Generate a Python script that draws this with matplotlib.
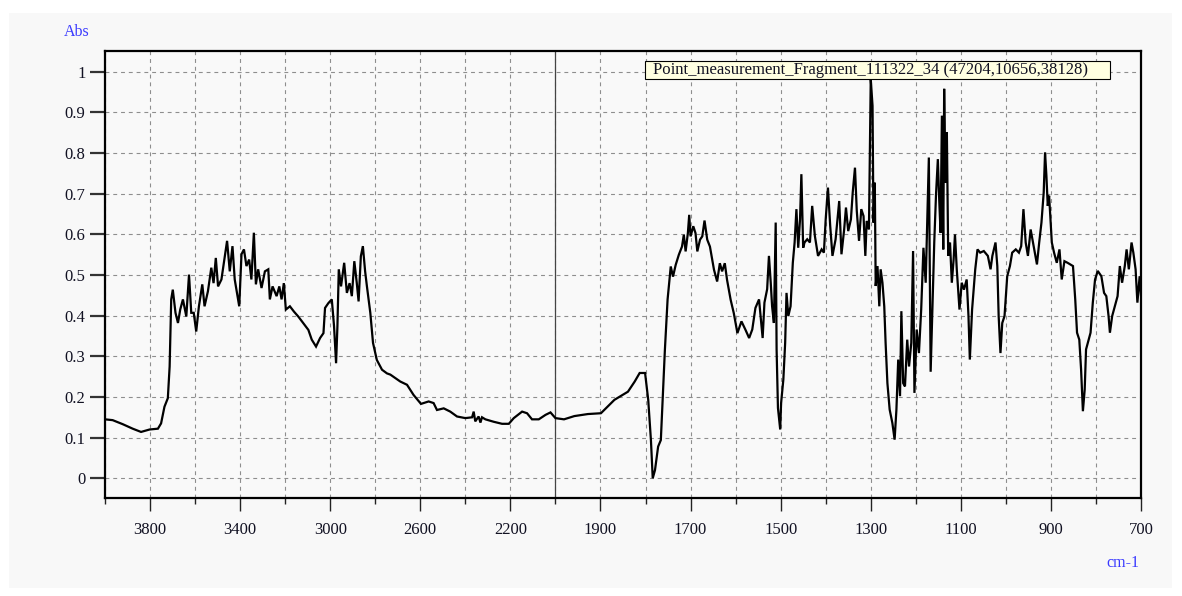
import numpy as np
import matplotlib
matplotlib.use("Agg")
import matplotlib.pyplot as plt
from matplotlib.patches import Rectangle

# ---------------- data ----------------
wavenumber = [
    4000, 3966, 3921, 3877, 3840, 3802, 3765, 3751, 3736, 3721, 3713, 3706, 3699, 3687,
    3676, 3666, 3654, 3639, 3627, 3617, 3606, 3595, 3583, 3568, 3558, 3543, 3528, 3518,
    3508, 3498, 3483, 3468, 3458, 3446, 3434, 3424, 3404, 3394, 3383, 3372, 3360, 3350,
    3339, 3330, 3320, 3305, 3290, 3275, 3268, 3256, 3238, 3226, 3216, 3206, 3197, 3179,
    3161, 3142, 3120, 3097, 3082, 3063, 3045, 3030, 3023, 3008, 2993, 2983, 2974, 2968,
    2962, 2952, 2938, 2926, 2914, 2904, 2893, 2882, 2874, 2864, 2855, 2845, 2837, 2822,
    2810, 2793, 2770, 2748, 2733, 2689, 2659, 2630, 2597, 2563, 2541, 2526, 2496, 2467,
    2437, 2400, 2370, 2363, 2356, 2341, 2333, 2326, 2311, 2274, 2237, 2207, 2185, 2148,
    2126, 2104, 2074, 2044, 2022, 2000, 1981, 1958, 1928, 1899, 1869, 1839, 1824, 1813,
    1801, 1794, 1788, 1784, 1779, 1772, 1766, 1762, 1757, 1751, 1744, 1739, 1733, 1726,
    1719, 1715, 1711, 1706, 1703, 1700, 1694, 1689, 1685, 1679, 1674, 1669, 1663, 1657,
    1648, 1641, 1635, 1630, 1624, 1619, 1611, 1604, 1596, 1587, 1578, 1570, 1563, 1556,
    1548, 1543, 1540, 1536, 1530, 1526, 1522, 1519, 1515, 1511, 1509, 1506, 1501, 1499,
    1494, 1490, 1487, 1483, 1478, 1473, 1469, 1465, 1461, 1457, 1454, 1450, 1447, 1441,
    1435, 1430, 1424, 1417, 1409, 1404, 1400, 1395, 1390, 1385, 1378, 1370, 1365, 1359,
    1355, 1350, 1344, 1340, 1335, 1331, 1326, 1321, 1316, 1312, 1309, 1304, 1300, 1296,
    1294, 1291, 1289, 1285, 1281, 1278, 1274, 1270, 1267, 1263, 1258, 1252, 1247, 1243,
    1239, 1235, 1232, 1228, 1224, 1219, 1215, 1210, 1206, 1203, 1198, 1193, 1188, 1183,
    1178, 1171, 1167, 1163, 1159, 1155, 1151, 1148, 1145, 1142, 1139, 1137, 1134, 1131,
    1128, 1124, 1120, 1116, 1113, 1109, 1103, 1098, 1093, 1087, 1083, 1080, 1075, 1068,
    1063, 1057, 1049, 1040, 1034, 1030, 1023, 1019, 1016, 1012, 1008, 1003, 997, 991,
    986, 978, 971, 966, 961, 956, 951, 945, 937, 931, 926, 921, 916, 913, 910, 907, 904,
    898, 893, 887, 881, 876, 870, 863, 851, 846, 842, 837, 833, 829, 825, 822, 818, 812,
    807, 802, 796, 788, 782, 777, 772, 769, 764, 758, 752, 747, 742, 736, 732, 727, 721,
    717, 712, 708, 703, 700,
]
absorbance = [
    0.145, 0.143, 0.133, 0.122, 0.114, 0.120, 0.122, 0.135, 0.176, 0.197, 0.275, 0.440, 0.464, 0.407,
    0.382, 0.415, 0.440, 0.398, 0.501, 0.407, 0.407, 0.361, 0.423, 0.477, 0.423, 0.460, 0.518, 0.480,
    0.542, 0.472, 0.489, 0.546, 0.584, 0.509, 0.571, 0.489, 0.423, 0.551, 0.563, 0.522, 0.538, 0.489,
    0.604, 0.477, 0.514, 0.468, 0.509, 0.514, 0.440, 0.472, 0.448, 0.472, 0.440, 0.480, 0.415, 0.423,
    0.410, 0.398, 0.382, 0.365, 0.341, 0.324, 0.345, 0.357, 0.419, 0.431, 0.440, 0.374, 0.283, 0.374,
    0.514, 0.472, 0.530, 0.456, 0.480, 0.448, 0.534, 0.480, 0.435, 0.546, 0.571, 0.509, 0.472, 0.407,
    0.333, 0.291, 0.267, 0.258, 0.255, 0.238, 0.230, 0.205, 0.183, 0.189, 0.185, 0.168, 0.172, 0.164,
    0.152, 0.148, 0.150, 0.164, 0.140, 0.152, 0.137, 0.150, 0.145, 0.139, 0.134, 0.134, 0.148, 0.164,
    0.160, 0.145, 0.145, 0.156, 0.162, 0.148, 0.145, 0.153, 0.158, 0.160, 0.193, 0.213, 0.238, 0.259,
    0.259, 0.193, 0.094, 0.000, 0.020, 0.078, 0.094, 0.193, 0.316, 0.440, 0.521, 0.496, 0.525, 0.550,
    0.570, 0.599, 0.558, 0.603, 0.648, 0.595, 0.620, 0.603, 0.558, 0.587, 0.595, 0.634, 0.587, 0.570,
    0.513, 0.484, 0.529, 0.509, 0.529, 0.488, 0.439, 0.406, 0.357, 0.386, 0.365, 0.345, 0.366, 0.419,
    0.440, 0.382, 0.345, 0.432, 0.465, 0.547, 0.481, 0.423, 0.382, 0.629, 0.317, 0.173, 0.120, 0.185,
    0.243, 0.333, 0.456, 0.399, 0.423, 0.530, 0.580, 0.662, 0.567, 0.637, 0.748, 0.567, 0.580, 0.588,
    0.580, 0.670, 0.596, 0.547, 0.563, 0.555, 0.637, 0.715, 0.621, 0.547, 0.588, 0.682, 0.551, 0.612,
    0.666, 0.608, 0.637, 0.703, 0.764, 0.658, 0.584, 0.662, 0.645, 0.547, 0.633, 0.612, 0.982, 0.916,
    0.629, 0.727, 0.473, 0.522, 0.423, 0.514, 0.481, 0.423, 0.333, 0.234, 0.169, 0.136, 0.095, 0.169,
    0.292, 0.202, 0.411, 0.234, 0.226, 0.341, 0.275, 0.333, 0.559, 0.210, 0.366, 0.308, 0.415, 0.567,
    0.481, 0.789, 0.262, 0.420, 0.580, 0.700, 0.785, 0.686, 0.604, 0.892, 0.563, 0.958, 0.727, 0.851,
    0.547, 0.580, 0.481, 0.538, 0.600, 0.514, 0.415, 0.481, 0.464, 0.489, 0.399, 0.292, 0.415, 0.514,
    0.563, 0.555, 0.559, 0.547, 0.514, 0.547, 0.580, 0.522, 0.399, 0.308, 0.382, 0.399, 0.497, 0.522,
    0.555, 0.563, 0.555, 0.571, 0.662, 0.580, 0.547, 0.612, 0.563, 0.526, 0.580, 0.629, 0.703, 0.801,
    0.744, 0.670, 0.695, 0.580, 0.555, 0.530, 0.563, 0.489, 0.534, 0.530, 0.522, 0.440, 0.358, 0.341,
    0.267, 0.165, 0.218, 0.317, 0.333, 0.358, 0.432, 0.489, 0.510, 0.497, 0.456, 0.448, 0.399, 0.358,
    0.399, 0.423, 0.448, 0.522, 0.481, 0.522, 0.563, 0.514, 0.580, 0.555, 0.514, 0.432, 0.497, 0.450,
]

x_major = [3800, 3400, 3000, 2600, 2200, 1900, 1700, 1500, 1300, 1100, 900, 700]
x_minor = [4000, 3600, 3200, 2800, 2400, 2000, 1800, 1600, 1400, 1200, 1000, 800]
y_ticks = [0, 0.1, 0.2, 0.3, 0.4, 0.5, 0.6, 0.7, 0.8, 0.9, 1.0]
y_labels = ["0", "0.1", "0.2", "0.3", "0.4", "0.5", "0.6", "0.7", "0.8", "0.9", "1"]
legend_text = "Point_measurement_Fragment_111322_34 (47204,10656,38128)"
break_wn = 2000

# ---------------- scale: 4000-2000 compressed, 2000-700 at double scale ----------------
def fwd(x):
    x = np.asarray(x, dtype=float)
    return np.where(x >= break_wn, x, 2.0 * x - break_wn)

def inv(u):
    u = np.asarray(u, dtype=float)
    return np.where(u >= break_wn, u, (u + break_wn) / 2.0)

plt.rcParams['font.family'] = ['Liberation Serif', 'DejaVu Serif']

W, H = 1182, 596
fig = plt.figure(figsize=(W / 100, H / 100), dpi=100, facecolor='white')

# light gray panel
fig.add_artist(Rectangle((9 / W, 1 - 588 / H), (1172 - 9) / W, (588 - 13) / H,
                         transform=fig.transFigure, facecolor='#f8f8f8',
                         edgecolor='none', zorder=-10))

ax = fig.add_axes([105 / W, 1 - 498 / H, (1141 - 105) / W, (498 - 51) / H])
ax.set_facecolor('#f9f9f9')
ax.set_xscale('function', functions=(fwd, inv))
ax.set_xlim(4000, 700)
ax.set_ylim(-0.0485, 1.051)

ax.set_xticks(x_major)
ax.set_xticklabels([str(v) for v in x_major])
ax.set_xticks(x_minor, minor=True)
ax.set_yticks(y_ticks)
ax.set_yticklabels(y_labels)

ax.tick_params(axis='x', which='major', length=9, width=1, color='#222222',
               labelsize=12, pad=8, labelcolor='#111122')
ax.tick_params(axis='x', which='minor', length=4, width=1, color='#222222')
ax.tick_params(axis='y', which='major', length=11, width=1.6, color='#333333',
               labelsize=12, pad=3, labelcolor='#111122')

grid_kw = dict(color='#8e8e8e', linewidth=0.8, linestyle=(0, (3.5, 3.5)))
ax.grid(True, axis='x', which='both', **grid_kw)
ax.grid(True, axis='y', which='major', **grid_kw)
ax.set_axisbelow(True)

for s in ax.spines.values():
    s.set_color('black')
    s.set_linewidth(1.6)

ax.axvline(break_wn, color='#444444', linewidth=0.9, zorder=1.5)

ax.plot(wavenumber, absorbance, color='black', linewidth=1.6, zorder=3,
        solid_joinstyle='miter')

# legend box
fig.add_artist(Rectangle((645 / W, 1 - 78.5 / H), (1110 - 645) / W, 17.5 / H,
                         transform=fig.transFigure, facecolor='#ffffe1',
                         edgecolor='black', linewidth=0.8, zorder=5))
fig.text(653 / W, 1 - 70 / H, legend_text, fontsize=12, color='#111122',
         ha='left', va='center', zorder=6)

fig.text(77 / W, 1 - 32 / H, "Abs", fontsize=11.5, color='#3a3aff',
         ha='center', va='center')
fig.text(1139 / W, 1 - 563 / H, "cm-1", fontsize=11.5, color='#3a3aff',
         ha='right', va='center')

fig.savefig('out.png', dpi=100, facecolor=fig.get_facecolor())
